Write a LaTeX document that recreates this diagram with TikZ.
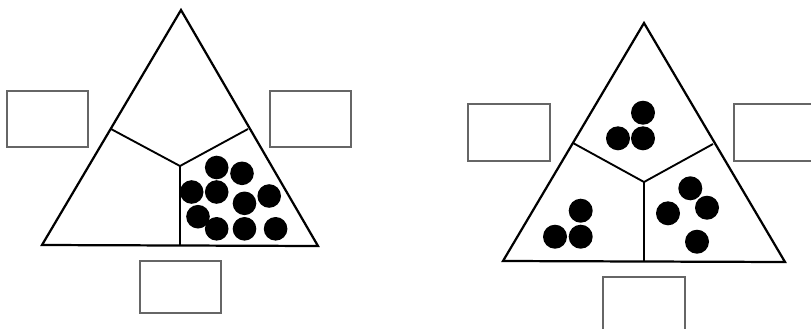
\documentclass[tikz,border=0pt]{standalone}
\usepackage{tikz}

\begin{document}
\begin{tikzpicture}[
  x=0.03cm, y=-0.03cm,
  tri/.style={draw, line width=1.9pt, line join=miter},
  divider/.style={draw, line width=1.6pt},
  answerbox/.style={draw=black!60, line width=1.4pt},
  counter/.style={fill=black}
]
\clip (0,0) rectangle (811,328);
\useasboundingbox (0,0) rectangle (811,328);

% left triangle
\coordinate (apexA) at (181,10);
\coordinate (blA) at (42,245);
\coordinate (brA) at (318,246);
\coordinate (midA) at (180,166);
\coordinate (leftA) at (111,129);
\coordinate (rightA) at (248,129);
\draw[tri] (apexA) -- (blA) -- (brA) -- cycle;
\draw[divider] (leftA) -- (midA) -- (rightA);
\draw[divider] (midA) -- (midA |- blA);
\draw[answerbox] (7,91) rectangle (88,147);
\draw[answerbox] (270,91) rectangle (351,147);
\draw[answerbox] (140,261) rectangle (221,313);
\foreach \cx/\cy in {216.7/167.5, 242/173.3, 191.7/192, 216.7/192, 244.5/203.3,
  269.2/196, 198/216.7, 216.7/228.8, 244.5/228.8, 275.6/228.8}
  \fill[counter] (\cx,\cy) circle (11.8);

% right triangle
\coordinate (apexB) at (644,23);
\coordinate (blB) at (503,261);
\coordinate (brB) at (785,262);
\coordinate (midB) at (644,182);
\coordinate (leftB) at (573,143);
\coordinate (rightB) at (713,144);
\draw[tri] (apexB) -- (blB) -- (brB) -- cycle;
\draw[divider] (leftB) -- (midB) -- (rightB);
\draw[divider] (midB) -- (midB |- blB);
\draw[answerbox] (468,104) rectangle (550,161);
\draw[answerbox] (734,104) rectangle (816,161);
\draw[answerbox] (603,277) rectangle (685,334);
\foreach \cx/\cy in {643/112.7, 618/138.3, 643/138.3,
  580.7/210.7, 555/236.7, 580.7/236.7,
  690.3/188.3, 707/207.7, 668/213.3, 697/241.7}
  \fill[counter] (\cx,\cy) circle (12);
\end{tikzpicture}
\end{document}
